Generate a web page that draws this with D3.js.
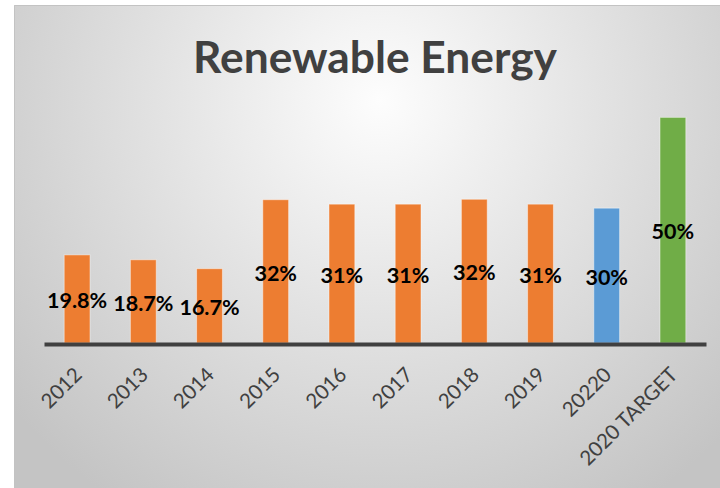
<!DOCTYPE html>
<html>
<head>
<meta charset="utf-8">
<script src="https://cdn.jsdelivr.net/npm/d3@7"></script>
<style>
  html, body { margin: 0; padding: 0; background: #ffffff; }
  svg { display: block; }
</style>
</head>
<body>
<svg id="chart" width="720" height="488"></svg>
<script>
// ---- data ----
const title = "Renewable Energy";
const categories = ["2012", "2013", "2014", "2015", "2016", "2017", "2018", "2019", "20220", "2020 TARGET"];
const values = [19.8, 18.7, 16.7, 32.2, 31.2, 31.2, 32.3, 31.2, 30.3, 50.7];
const valueLabels = ["19.8%", "18.7%", "16.7%", "32%", "31%", "31%", "32%", "31%", "30%", "50%"];
const barKinds = ["actual", "actual", "actual", "actual", "actual", "actual", "actual", "actual", "current", "target"];
const kindNames = ["actual", "current", "target"];
const kindColors = ["#ED7D31", "#5B9BD5", "#70AD47"];

// ---- layout ----
const W = 720, H = 488;
const frame = { x: 14, y: 5 };
const plot = { left: 44, right: 706, top: 76, bottom: 343 };

const svg = d3.select("#chart");
const defs = svg.append("defs");
const grad = defs.append("radialGradient")
  .attr("id", "bg")
  .attr("gradientUnits", "userSpaceOnUse")
  .attr("cx", 380).attr("cy", 100).attr("r", 480);
grad.append("stop").attr("offset", "0%").attr("stop-color", "#fdfdfd");
grad.append("stop").attr("offset", "45%").attr("stop-color", "#e3e3e3");
grad.append("stop").attr("offset", "100%").attr("stop-color", "#c4c4c4");

svg.append("rect")
  .attr("x", frame.x).attr("y", frame.y)
  .attr("width", W - frame.x).attr("height", H - frame.y)
  .attr("fill", "url(#bg)");
svg.append("path")
  .attr("d", `M${frame.x + 0.5},${H} V${frame.y + 0.5} H${W}`)
  .attr("fill", "none").attr("stroke", "#c3c3c3").attr("stroke-width", 1);

// title
svg.append("text")
  .attr("x", 375).attr("y", 73)
  .attr("text-anchor", "middle")
  .attr("font-family", "Lato, 'Open Sans', sans-serif")
  .attr("font-weight", "bold")
  .attr("font-size", 44)
  .attr("fill", "#404040")
  .attr("textLength", 364)
  .attr("lengthAdjust", "spacingAndGlyphs")
  .text(title);

// scales
const x = d3.scaleBand().domain(categories).range([plot.left, plot.right]).padding(0);
const y = d3.scaleLinear().domain([0, 60]).range([plot.bottom, plot.top]);
const color = d3.scaleOrdinal().domain(kindNames).range(kindColors);
const barW = x.bandwidth() * 0.39;

const data = categories.map((c, i) => ({ cat: c, v: values[i], label: valueLabels[i], kind: barKinds[i] }));

// bars
svg.append("g").selectAll("rect")
  .data(data).join("rect")
  .attr("x", d => x(d.cat) + (x.bandwidth() - barW) / 2)
  .attr("y", d => y(d.v))
  .attr("width", barW)
  .attr("height", d => y(0) - y(d.v))
  .attr("fill", d => color(d.kind))
  .attr("stroke", "rgba(255,255,255,0.45)")
  .attr("stroke-width", 1);

// axis
const axisG = svg.append("g")
  .attr("transform", `translate(0,${plot.bottom + 1})`)
  .call(d3.axisBottom(x).tickSize(0).tickSizeOuter(0));
axisG.select(".domain")
  .attr("stroke", "#404040")
  .attr("stroke-width", 4);
axisG.selectAll(".tick text")
  .attr("x", null).attr("y", null).attr("dy", null)
  .attr("text-anchor", "end")
  .attr("transform", "translate(6,32) rotate(-45)")
  .attr("font-family", "Lato, 'Open Sans', sans-serif")
  .attr("font-size", 20.5)
  .attr("fill", "#404040");

// data labels
svg.append("g").selectAll("text")
  .data(data).join("text")
  .attr("x", d => x(d.cat) + x.bandwidth() / 2)
  .attr("y", d => (y(d.v) + y(0)) / 2 + 1.5)
  .attr("dy", "0.36em")
  .attr("text-anchor", "middle")
  .attr("font-family", "Lato, 'Open Sans', sans-serif")
  .attr("font-weight", "bold")
  .attr("font-size", 21.5)
  .attr("fill", "#000000")
  .text(d => d.label);
</script>
</body>
</html>
